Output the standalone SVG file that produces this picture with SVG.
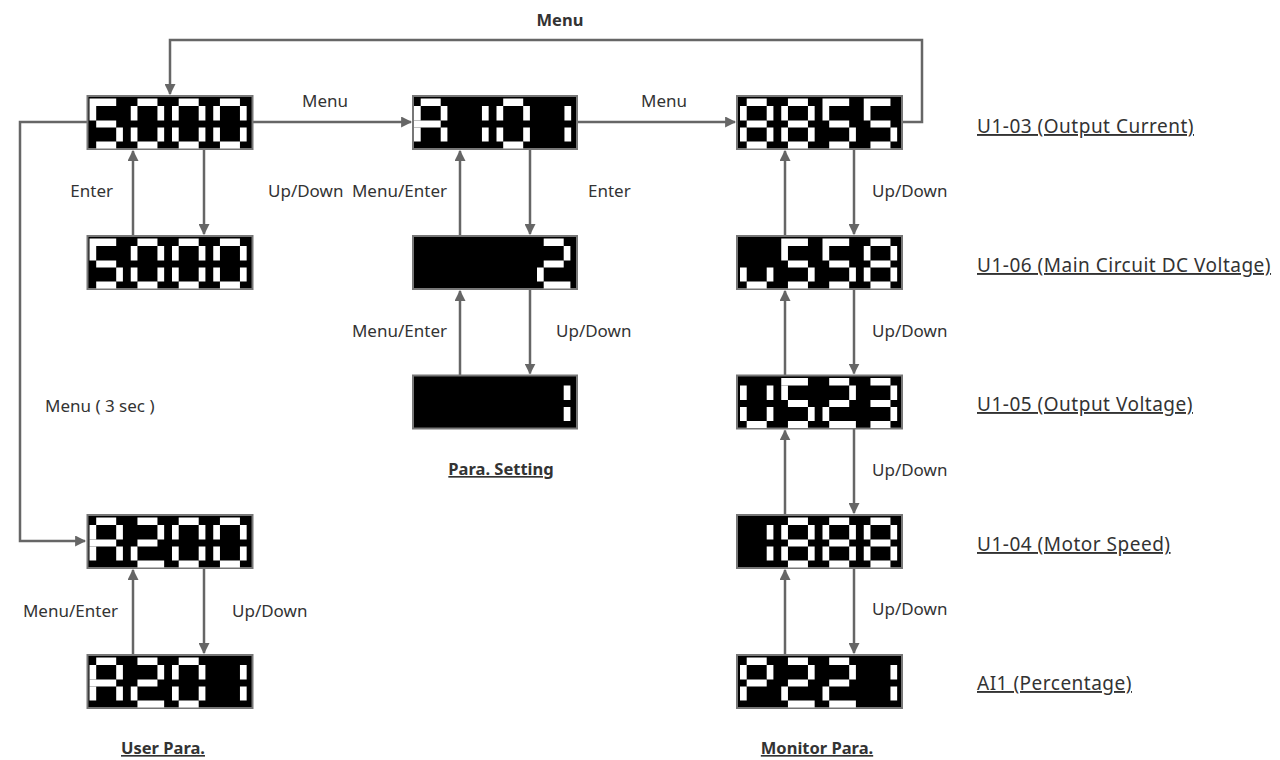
<svg xmlns="http://www.w3.org/2000/svg" width="1280" height="760" viewBox="0 0 1280 760">
<style>
.bx{fill:#000;stroke:#777;stroke-width:2}
.seg rect{fill:#fff}
.ln{fill:none;stroke:#666;stroke-width:2.5}
.t{font-family:"Noto Sans","Open Sans",sans-serif;font-size:17px;fill:#333}
.r{font-size:19px;letter-spacing:0.5px}
.u{text-decoration:underline}
.b{font-weight:bold;font-size:16.5px}
</style>
<defs>
<marker id="ah" viewBox="0 0 10 10" refX="9" refY="5" markerWidth="4.4" markerHeight="4.4" orient="auto" markerUnits="strokeWidth"><path d="M0,0 L10,5 L0,10 z" fill="#666"/></marker>
<g id="d0" class="seg"><rect x="7.7" y="2.5" width="20" height="7.5"/><rect x="27.7" y="10" width="6.7" height="14.5"/><rect x="27.7" y="31.5" width="6.7" height="14"/><rect x="7.7" y="45.5" width="20" height="7"/><rect x="1" y="31.5" width="6.7" height="14"/><rect x="1" y="10" width="6.7" height="14.5"/></g>
<g id="d1" class="seg"><rect x="27.7" y="10" width="6.7" height="14.5"/><rect x="27.7" y="31.5" width="6.7" height="14"/></g>
<g id="d2" class="seg"><rect x="7.7" y="2.5" width="20" height="7.5"/><rect x="27.7" y="10" width="6.7" height="14.5"/><rect x="7.7" y="24.5" width="20" height="7"/><rect x="1" y="31.5" width="6.7" height="14"/><rect x="7.7" y="45.5" width="26.7" height="7"/></g>
<g id="d3" class="seg"><rect x="7.7" y="2.5" width="20" height="7.5"/><rect x="27.7" y="10" width="6.7" height="14.5"/><rect x="7.7" y="24.5" width="20" height="7"/><rect x="27.7" y="31.5" width="6.7" height="14"/><rect x="7.7" y="45.5" width="20" height="7"/></g>
<g id="d5" class="seg"><rect x="1" y="2.5" width="26.7" height="7.5"/><rect x="1" y="10" width="6.7" height="14.5"/><rect x="7.7" y="24.5" width="20" height="7"/><rect x="27.7" y="31.5" width="6.7" height="14"/><rect x="7.7" y="45.5" width="20" height="7"/></g>
<g id="d8" class="seg"><rect x="7.7" y="2.5" width="20" height="7.5"/><rect x="27.7" y="10" width="6.7" height="14.5"/><rect x="27.7" y="31.5" width="6.7" height="14"/><rect x="7.7" y="45.5" width="20" height="7"/><rect x="1" y="31.5" width="6.7" height="14"/><rect x="1" y="10" width="6.7" height="14.5"/><rect x="7.7" y="24.5" width="20" height="7"/></g>
<g id="dA" class="seg"><rect x="7.7" y="2.5" width="20" height="7.5"/><rect x="27.7" y="10" width="6.7" height="14.5"/><rect x="27.7" y="31.5" width="6.7" height="14"/><rect x="1" y="31.5" width="6.7" height="14"/><rect x="1" y="10" width="6.7" height="14.5"/><rect x="1" y="24.5" width="26.7" height="7"/></g>
<g id="dP" class="seg"><rect x="7.7" y="2.5" width="20" height="7.5"/><rect x="27.7" y="10" width="6.7" height="14.5"/><rect x="1" y="31.5" width="6.7" height="14"/><rect x="1" y="10" width="6.7" height="14.5"/><rect x="7.7" y="24.5" width="20" height="7"/></g>
<g id="dU" class="seg"><rect x="27.7" y="10" width="6.7" height="14.5"/><rect x="27.7" y="31.5" width="6.7" height="14"/><rect x="7.7" y="45.5" width="20" height="7"/><rect x="1" y="31.5" width="6.7" height="14"/><rect x="1" y="10" width="6.7" height="14.5"/></g>
<g id="du" class="seg"><rect x="27.7" y="31.5" width="6.7" height="14"/><rect x="7.7" y="45.5" width="20" height="7"/><rect x="1" y="31.5" width="6.7" height="14"/></g>
</defs>

<g id="connectors">
<path class="ln" d="M902,122 H922 V40 H170 V94" marker-end="url(#ah)"/>
<path class="ln" d="M253,122 H411" marker-end="url(#ah)"/>
<path class="ln" d="M577,122 H735" marker-end="url(#ah)"/>
<path class="ln" d="M87,122 H20 V541 H85" marker-end="url(#ah)"/>
<path class="ln" d="M133,236 V151" marker-end="url(#ah)"/>
<path class="ln" d="M204,149 V234" marker-end="url(#ah)"/>
<path class="ln" d="M460,236 V151" marker-end="url(#ah)"/>
<path class="ln" d="M530,149 V234" marker-end="url(#ah)"/>
<path class="ln" d="M460,375.5 V291" marker-end="url(#ah)"/>
<path class="ln" d="M530,289 V373.5" marker-end="url(#ah)"/>
<path class="ln" d="M133,655 V570" marker-end="url(#ah)"/>
<path class="ln" d="M204,568 V653" marker-end="url(#ah)"/>
<path class="ln" d="M785,236 V151" marker-end="url(#ah)"/>
<path class="ln" d="M854,149 V234" marker-end="url(#ah)"/>
<path class="ln" d="M785,375.5 V291" marker-end="url(#ah)"/>
<path class="ln" d="M854,289 V373.5" marker-end="url(#ah)"/>
<path class="ln" d="M785,515 V430.5" marker-end="url(#ah)"/>
<path class="ln" d="M854,428.5 V513" marker-end="url(#ah)"/>
<path class="ln" d="M785,655 V570" marker-end="url(#ah)"/>
<path class="ln" d="M854,568 V653" marker-end="url(#ah)"/>
</g>

<g id="disp-home"><rect class="bx" x="87.5" y="96" width="165" height="53"/><use href="#d5" x="88.5" y="96"/><use href="#d0" x="129.75" y="96"/><use href="#d0" x="171" y="96"/><use href="#d0" x="212.25" y="96"/></g>
<g id="disp-home-edit"><rect class="bx" x="87.5" y="236" width="165" height="53"/><use href="#d5" x="88.5" y="236"/><use href="#d0" x="129.75" y="236"/><use href="#d0" x="171" y="236"/><use href="#d0" x="212.25" y="236"/></g>
<g id="disp-user1"><rect class="bx" x="87.5" y="515" width="165" height="53"/><use href="#dA" x="88.5" y="515"/><use href="#d2" x="129.75" y="515"/><use href="#d0" x="171" y="515"/><use href="#d0" x="212.25" y="515"/></g>
<g id="disp-user2"><rect class="bx" x="87.5" y="655" width="165" height="53"/><use href="#dA" x="88.5" y="655"/><use href="#d2" x="129.75" y="655"/><use href="#d0" x="171" y="655"/><use href="#d1" x="212.25" y="655"/></g>
<g id="disp-para1"><rect class="bx" x="413" y="96" width="164" height="53"/><use href="#dA" x="413" y="96"/><use href="#d1" x="454.25" y="96"/><use href="#d0" x="495.5" y="96"/><use href="#d1" x="536.75" y="96"/></g>
<g id="disp-para2"><rect class="bx" x="413" y="236" width="164" height="53"/><use href="#d2" x="536" y="236"/></g>
<g id="disp-para3"><rect class="bx" x="413" y="375.5" width="164" height="53"/><use href="#d1" x="536" y="375.5"/></g>
<g id="disp-mon1"><rect class="bx" x="737" y="96" width="165" height="53"/><use href="#d8" x="739" y="96"/><use href="#d8" x="780.25" y="96"/><use href="#d5" x="821.5" y="96"/><use href="#d5" x="862.75" y="96"/></g>
<g id="disp-mon2"><rect class="bx" x="737" y="236" width="165" height="53"/><use href="#du" x="739" y="236"/><use href="#d5" x="780.25" y="236"/><use href="#d5" x="821.5" y="236"/><use href="#d8" x="862.75" y="236"/></g>
<g id="disp-mon3"><rect class="bx" x="737" y="375.5" width="165" height="53"/><use href="#dU" x="739" y="375.5"/><use href="#d5" x="780.25" y="375.5"/><use href="#d2" x="821.5" y="375.5"/><use href="#d3" x="862.75" y="375.5"/></g>
<g id="disp-mon4"><rect class="bx" x="737" y="515" width="165" height="53"/><use href="#d1" x="739" y="515"/><use href="#d8" x="780.25" y="515"/><use href="#d8" x="821.5" y="515"/><use href="#d8" x="862.75" y="515"/></g>
<g id="disp-mon5"><rect class="bx" x="737" y="655" width="165" height="53"/><use href="#dP" x="739" y="655"/><use href="#d2" x="780.25" y="655"/><use href="#d2" x="821.5" y="655"/><use href="#d1" x="862.75" y="655"/></g>

<g id="labels">
<text class="t b" x="560" y="26" text-anchor="middle">Menu</text>
<text class="t" x="325" y="107" text-anchor="middle">Menu</text>
<text class="t" x="664" y="107" text-anchor="middle">Menu</text>
<text class="t" x="113" y="197" text-anchor="end">Enter</text>
<text class="t" x="268" y="197">Up/Down</text>
<text class="t" x="447" y="197" text-anchor="end">Menu/Enter</text>
<text class="t" x="588" y="197">Enter</text>
<text class="t" x="447" y="337" text-anchor="end">Menu/Enter</text>
<text class="t" x="556" y="337">Up/Down</text>
<text class="t" x="45" y="412">Menu ( 3 sec )</text>
<text class="t" x="118" y="617" text-anchor="end">Menu/Enter</text>
<text class="t" x="232" y="617">Up/Down</text>
<text class="t" x="872" y="197">Up/Down</text>
<text class="t" x="872" y="337">Up/Down</text>
<text class="t" x="872" y="476">Up/Down</text>
<text class="t" x="872" y="615">Up/Down</text>
<text class="t r u" x="977" y="133">U1-03 (Output Current)</text>
<text class="t r u" x="977" y="272">U1-06 (Main Circuit DC Voltage)</text>
<text class="t r u" x="977" y="411">U1-05 (Output Voltage)</text>
<text class="t r u" x="977" y="551">U1-04 (Motor Speed)</text>
<text class="t r u" x="977" y="690">AI1 (Percentage)</text>
<text class="t u b" x="501" y="475" text-anchor="middle">Para. Setting</text>
<text class="t u b" x="163" y="754" text-anchor="middle">User Para.</text>
<text class="t u b" x="817" y="754" text-anchor="middle">Monitor Para.</text>
</g>
</svg>
